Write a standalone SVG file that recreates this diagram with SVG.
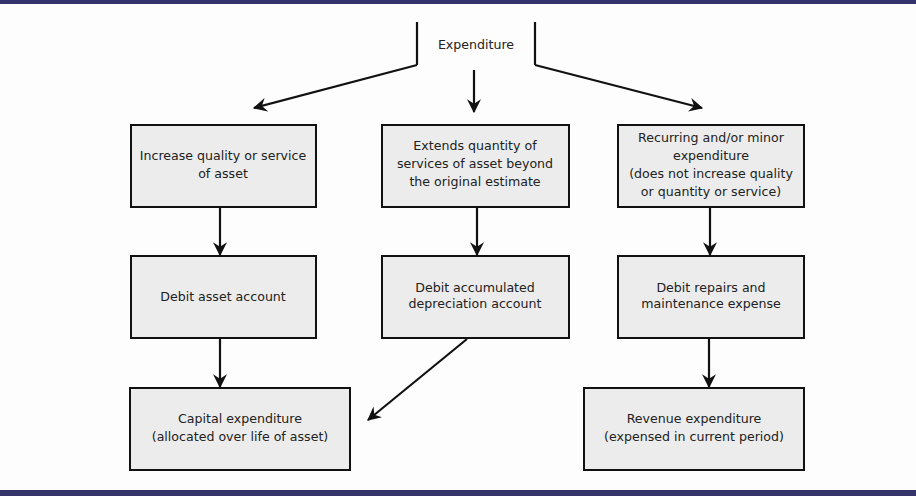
<svg xmlns="http://www.w3.org/2000/svg" width="916" height="496" viewBox="0 0 916 496">
<defs>
<style>
.box{fill:#ececec;stroke:#111;stroke-width:2}
.t{font-family:"DejaVu Sans",Verdana,sans-serif;font-size:12.6px;fill:#222;text-anchor:middle}
.c{stroke:#111;stroke-width:2.2;fill:none}
</style>
<marker id="a" viewBox="0 0 12 12" refX="11" refY="6" markerWidth="14" markerHeight="14" markerUnits="userSpaceOnUse" orient="auto">
<path d="M0,0 L12,6 L0,12 L4,6 z" fill="#111"/>
</marker>
</defs>
<rect width="916" height="496" fill="#fdfdfd"/>
<rect x="0" y="0" width="916" height="4" fill="#34346a"/>
<rect x="0" y="490" width="916" height="6" fill="#34346a"/>

<g id="expenditure">
<path class="c" d="M417,22 V65 M535,22 V65"/>
<text class="t" x="476" y="49">Expenditure</text>
</g>

<g id="connectors">
<line class="c" x1="417" y1="65" x2="254" y2="108" marker-end="url(#a)"/>
<line class="c" x1="474" y1="70" x2="474" y2="112" marker-end="url(#a)"/>
<line class="c" x1="535" y1="65" x2="702" y2="108" marker-end="url(#a)"/>
<line class="c" x1="220" y1="207" x2="220" y2="255" marker-end="url(#a)"/>
<line class="c" x1="477" y1="207" x2="477" y2="255" marker-end="url(#a)"/>
<line class="c" x1="710" y1="207" x2="710" y2="255" marker-end="url(#a)"/>
<line class="c" x1="220" y1="338" x2="220" y2="387" marker-end="url(#a)"/>
<line class="c" x1="709" y1="338" x2="709" y2="387" marker-end="url(#a)"/>
<line class="c" x1="467" y1="339" x2="368" y2="420" marker-end="url(#a)"/>
</g>

<g id="n1">
<rect class="box" x="131" y="125" width="185" height="82"/>
<text class="t" x="223" y="160">Increase quality or service</text>
<text class="t" x="223" y="178">of asset</text>
</g>
<g id="n2">
<rect class="box" x="382" y="125" width="187" height="82"/>
<text class="t" x="475" y="150">Extends quantity of</text>
<text class="t" x="475" y="168">services of asset beyond</text>
<text class="t" x="475" y="186">the original estimate</text>
</g>
<g id="n3">
<rect class="box" x="618" y="125" width="186" height="82"/>
<text class="t" x="711" y="142">Recurring and/or minor</text>
<text class="t" x="711" y="160">expenditure</text>
<text class="t" x="711" y="178">(does not increase quality</text>
<text class="t" x="711" y="196">or quantity or service)</text>
</g>
<g id="n4">
<rect class="box" x="131" y="256" width="185" height="82"/>
<text class="t" x="223" y="301">Debit asset account</text>
</g>
<g id="n5">
<rect class="box" x="382" y="256" width="187" height="82"/>
<text class="t" x="475" y="292">Debit accumulated</text>
<text class="t" x="475" y="308">depreciation account</text>
</g>
<g id="n6">
<rect class="box" x="618" y="256" width="186" height="82"/>
<text class="t" x="711" y="292">Debit repairs and</text>
<text class="t" x="711" y="308">maintenance expense</text>
</g>
<g id="n7">
<rect class="box" x="130" y="388" width="220" height="82"/>
<text class="t" x="240" y="423">Capital expenditure</text>
<text class="t" x="240" y="441">(allocated over life of asset)</text>
</g>
<g id="n8">
<rect class="box" x="584" y="388" width="220" height="82"/>
<text class="t" x="694" y="423">Revenue expenditure</text>
<text class="t" x="694" y="441">(expensed in current period)</text>
</g>
</svg>
